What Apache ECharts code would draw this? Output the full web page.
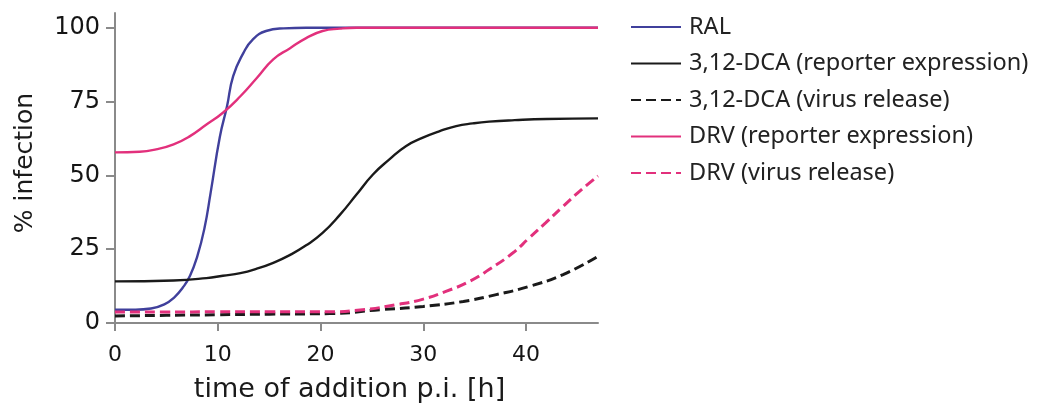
<!DOCTYPE html>
<html>
<head>
<meta charset="utf-8">
<script src="https://cdn.jsdelivr.net/npm/echarts@6/dist/echarts.min.js"></script>
<style>
html,body{margin:0;padding:0;background:#fff;}
#chart{width:1039px;height:404px;}
</style>
</head>
<body>
<div id="chart"></div>
<script>
// ---- data ----
var seriesNames = ['RAL', '3,12-DCA (reporter expression)', '3,12-DCA (virus release)', 'DRV (reporter expression)', 'DRV (virus release)'];

var ralX = [0, 2, 3.5, 4.8, 5.8, 6.6, 7.3, 8, 8.7, 9.3, 10.2, 10.9, 11.5, 12.5, 13.4, 14.7, 16.4, 18.6, 22, 30, 40, 47];
var ralY = [4.5, 4.5, 4.9, 6.3, 8.8, 12, 16, 22.5, 32, 44, 63, 73.4, 83.6, 91.5, 96, 98.9, 99.8, 100, 100, 100, 100, 100];

var dcaRepX = [0, 5.7, 8.9, 10.5, 12.2, 13.8, 15.4, 17, 18.6, 20.2, 21.9, 23.5, 25.1, 26.7, 28.3, 29.9, 31.6, 33.2, 34.8, 36.4, 38.9, 42, 47];
var dcaRepY = [14.1, 14.4, 15.2, 16, 16.9, 18.4, 20.4, 23, 26.3, 30.5, 36.7, 43.5, 50.3, 55.4, 59.9, 62.7, 65, 66.7, 67.6, 68.2, 68.7, 69.1, 69.3];

var dcaVirX = [0, 5, 10, 15, 20.9, 25.8, 30, 33.9, 37.1, 40.3, 43.6, 47];
var dcaVirY = [2.4, 2.6, 2.8, 3.0, 3.2, 4.5, 5.6, 7.3, 9.6, 12.4, 16.4, 22.6];

var drvRepX = [0, 2.4, 4, 5.7, 7.3, 8.9, 10.5, 12.2, 13.8, 15.4, 17, 18.6, 20.2, 21.9, 23.5, 30, 40, 47];
var drvRepY = [57.8, 58, 58.8, 60.5, 63.3, 67.2, 71.2, 76.8, 83, 89.3, 93, 96.5, 98.9, 99.7, 100, 100, 100, 100];

var drvVirX = [0, 5, 10, 15, 20.9, 24.1, 27.4, 30, 32.2, 34.5, 36.4, 38.7, 40.3, 41.9, 43.6, 45.2, 47];
var drvVirY = [3.7, 3.7, 3.8, 3.8, 3.8, 4.5, 6.2, 8.1, 10.7, 14.1, 18.1, 23.7, 28.8, 33.9, 39.5, 44.6, 49.8];

var yTicks = [0, 25, 50, 75, 100];
var xTicks = [0, 10, 20, 30, 40];

var xTitle = 'time of addition p.i. [h]';
var yTitle = '% infection';

// ---- build ----
function pairs(xs, ys) { return xs.map(function (x, i) { return [x, ys[i]]; }); }

var BLUE = '#40409c', BLACK = '#1a1a1a', PINK = '#e2307c';
function mk(name, xs, ys, color, dashed) {
  return {
    name: name, type: 'line', data: pairs(xs, ys),
    smooth: 0.5, showSymbol: false, symbol: 'none',
    lineStyle: { color: color, width: dashed ? 3 : 2.4, type: dashed ? [10, 5] : 'solid' },
    itemStyle: { color: color },
    emphasis: { disabled: true }
  };
}

var chart = echarts.init(document.getElementById('chart'), null, { renderer: 'canvas' });
var axisCol = '#8a8a8a';
chart.setOption({
  animation: false,
  backgroundColor: '#ffffff',
  grid: { left: 115, right: 441, top: 13, bottom: 81, containLabel: false, outerBoundsMode: 'none' },
  legend: {
    orient: 'vertical', left: 625, top: 10,
    itemWidth: 50, itemHeight: 14, itemGap: 12.5,
    itemStyle: { opacity: 0 },
    textStyle: { fontFamily: 'Noto Sans', fontSize: 23.5, color: '#222', lineHeight: 24, padding: [0, 0, 0, 3] },
    data: seriesNames
  },
  xAxis: {
    type: 'value', min: 0, max: 47,
    name: xTitle, nameLocation: 'middle', nameGap: 53,
    nameTextStyle: { fontFamily: 'DejaVu Sans', fontSize: 27, color: '#1a1a1a', padding: [0, 14, 0, 0] },
    axisLine: { show: true, onZero: false, lineStyle: { color: axisCol, width: 2 } },
    axisTick: { show: true, length: 8, customValues: xTicks, lineStyle: { color: axisCol, width: 2 } },
    axisLabel: { customValues: xTicks, margin: 21, fontFamily: 'DejaVu Sans', fontSize: 22, color: '#151515' },
    splitLine: { show: false }
  },
  yAxis: {
    type: 'value', min: 0, max: 105,
    name: yTitle, nameLocation: 'middle', nameGap: 77,
    nameTextStyle: { fontFamily: 'DejaVu Sans', fontSize: 25, color: '#1a1a1a', padding: [0, 0, 0, 10] },
    axisLine: { show: true, lineStyle: { color: axisCol, width: 2 } },
    axisTick: { show: true, length: 9, customValues: yTicks, lineStyle: { color: axisCol, width: 2 } },
    axisLabel: { customValues: yTicks, margin: 15, fontFamily: 'DejaVu Sans', fontSize: 24, color: '#151515' },
    splitLine: { show: false }
  },
  series: [
    mk(seriesNames[0], ralX, ralY, BLUE, false),
    mk(seriesNames[1], dcaRepX, dcaRepY, BLACK, false),
    mk(seriesNames[2], dcaVirX, dcaVirY, BLACK, true),
    mk(seriesNames[3], drvRepX, drvRepY, PINK, false),
    mk(seriesNames[4], drvVirX, drvVirY, PINK, true)
  ]
});
</script>
</body>
</html>
